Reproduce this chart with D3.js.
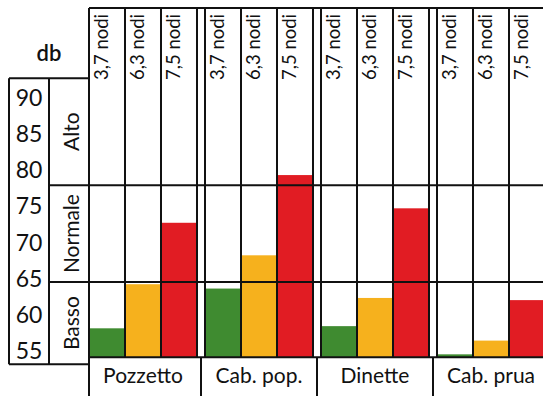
<!DOCTYPE html>
<html><head><meta charset="utf-8">
<script src="https://cdn.jsdelivr.net/npm/d3@7"></script>
<style>body{margin:0;background:#fff}svg{display:block}text{font-family:Lato,"Open Sans",sans-serif;fill:#111}</style>
</head><body><svg id="c" width="543" height="396"></svg>
<script>
const categories = ["Pozzetto", "Cab. pop.", "Dinette", "Cab. prua"];
const seriesNames = ["3,7 nodi", "6,3 nodi", "7,5 nodi"];
const values37 = [58.0, 63.5, 58.3, 54.4];
const values63 = [64.1, 68.1, 62.2, 56.3];
const values75 = [72.6, 79.2, 74.6, 61.9];
const tickValues = [90, 85, 80, 75, 70, 65, 60, 55];
const bandNames = ["Alto", "Normale", "Basso"];
const bandEdges = [92.6, 77.8, 64.4, 54]; // top of Alto ... baseline
const unitLabel = "db";
const colors = ["#3f8b30", "#f6b11d", "#e11c23"];

const series = [values37, values63, values75];
const svg = d3.select("#c");
const W = 543;
const baseVal = 54;
const y = d3.scaleLinear().domain([55, 90]).range([350, 97]);
const x0 = d3.scaleBand().domain(categories).range([89, 545]).paddingInner(0.069).paddingOuter(0);
const x1 = d3.scaleBand().domain(seriesNames).range([0, x0.bandwidth()]).padding(0);
const yBase = y(baseVal);
const yTop = 8, leftTop = y(bandEdges[0]), leftBottom = yBase + 7;

// bars
const g = svg.append("g");
categories.forEach((c, ci) => {
  seriesNames.forEach((s, si) => {
    const v = series[si][ci];
    g.append("rect")
      .attr("x", x0(c) + x1(s) + 1)
      .attr("width", x1.bandwidth() - 2)
      .attr("y", y(v))
      .attr("height", yBase - y(v))
      .attr("fill", colors[si]);
  });
});

const line = (x1_, y1_, x2_, y2_) => svg.append("line")
  .attr("x1", x1_).attr("y1", y1_).attr("x2", x2_).attr("y2", y2_)
  .attr("stroke", "#111").attr("stroke-width", 2);

// band lines
bandEdges.slice(1, 3).forEach(v => line(49, y(v), W, y(v)));
// top line
line(89, yTop, W, yTop);
// baseline
line(89, yBase, W, yBase);
// left box
line(9, leftTop, 89, leftTop);
line(9, leftTop, 9, leftBottom);
line(49, leftTop, 49, leftBottom);
line(9, leftBottom, 89, leftBottom);
line(89, yTop, 89, 396);

// column lines
categories.forEach(c => {
  seriesNames.forEach(s => {
    const xl = x0(c) + x1(s);
    line(xl, yTop, xl, yBase);
  });
  const xr = x0(c) + x0.bandwidth();
  line(xr, yTop, xr, yBase);
});
// category separators
categories.slice(1).forEach(c => {
  const xs = x0(c) - x0.step() * x0.paddingInner() / 2;
  line(xs, yBase, xs, 396);
});

// header labels
categories.forEach(c => {
  seriesNames.forEach(s => {
    const cx = x0(c) + x1(s) + 12;
    svg.append("text")
      .attr("transform", `translate(${cx},80) rotate(-90)`)
      .attr("dominant-baseline", "central")
      .attr("font-size", 18.5)
      .text(s);
  });
});

// category labels
categories.forEach(c => {
  svg.append("text")
    .attr("x", x0(c) + x0.bandwidth() / 2)
    .attr("y", 383)
    .attr("text-anchor", "middle")
    .attr("font-size", 21)
    .text(c);
});

// ticks
tickValues.forEach(t => {
  svg.append("text")
    .attr("x", 29).attr("y", y(t))
    .attr("text-anchor", "middle")
    .attr("dominant-baseline", "central")
    .attr("font-size", 23)
    .text(t);
});

// band labels
const bandCenters = [
  (y(bandEdges[0]) + y(bandEdges[1])) / 2,
  (y(bandEdges[1]) + y(bandEdges[2])) / 2,
  (y(bandEdges[2]) + leftBottom) / 2
];
bandNames.forEach((b, i) => {
  svg.append("text")
    .attr("transform", `translate(70,${bandCenters[i]}) rotate(-90)`)
    .attr("text-anchor", "middle")
    .attr("dominant-baseline", "central")
    .attr("font-size", 21)
    .text(b);
});

// unit
svg.append("text").attr("x", 49).attr("y", 61)
  .attr("text-anchor", "middle").attr("font-size", 22).attr("font-weight", 600)
  .text(unitLabel);
</script></body></html>
